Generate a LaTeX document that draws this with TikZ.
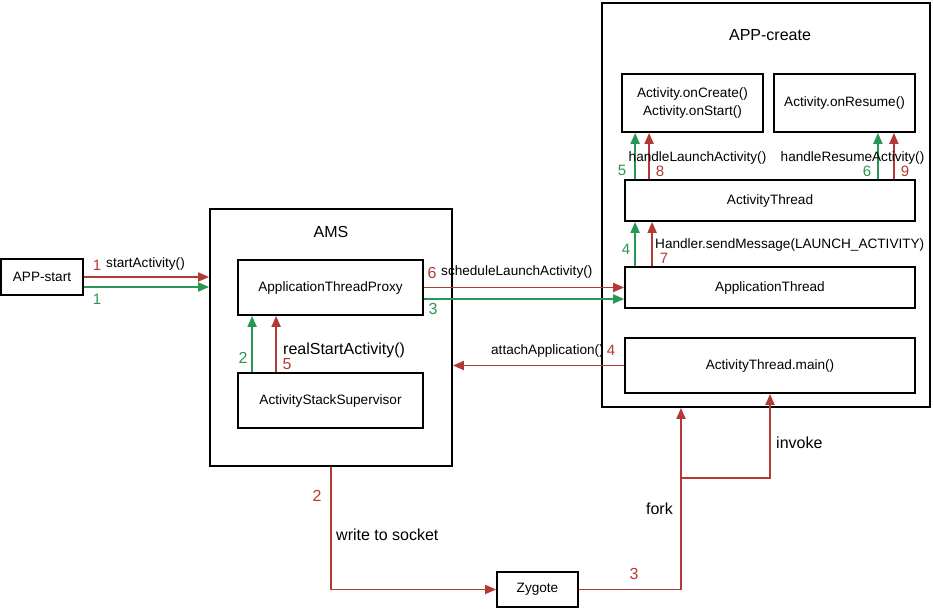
\documentclass[tikz,border=0pt]{standalone}
\usepackage{fontspec}
\setmainfont{Liberation Sans}
\usetikzlibrary{arrows.meta}
\definecolor{callred}{RGB}{178,58,52}
\definecolor{callgreen}{RGB}{40,150,84}
\begin{document}
\begin{tikzpicture}[x=1pt,y=-1pt,
  box/.style={draw,line width=1.8pt,inner sep=0pt,align=center,font=\fontsize{13.6}{18}\selectfont},
  title/.style={inner sep=0pt,font=\fontsize{16}{18}\selectfont},
  lbl/.style={inner sep=0pt,font=\fontsize{13.6}{16}\selectfont},
  biglbl/.style={inner sep=0pt,font=\fontsize{16}{18}\selectfont},
  rednum/.style={inner sep=0pt,font=\fontsize{15}{17}\selectfont,text=callred},
  greennum/.style={inner sep=0pt,font=\fontsize{15}{17}\selectfont,text=callgreen},
  redcall/.style={draw=callred,line width=1.9pt,-{Triangle[length=11pt,width=9pt]}},
  greencall/.style={draw=callgreen,line width=1.9pt,-{Triangle[length=11pt,width=9pt]}}]
\useasboundingbox (0,0) rectangle (933,610);

% boxes
\node(appstart) [box,minimum width=82pt,minimum height=36pt] at (42,277) {APP-start};
\node(ams) [box,minimum width=242pt,minimum height=257pt] at (331,337.5) {};
\node(amstitle) [title] at (331,232) {AMS};
\node(atp) [box,minimum width=185pt,minimum height=55pt] at (330.5,287.5) {ApplicationThreadProxy};
\node(ass) [box,minimum width=185pt,minimum height=55pt] at (330.5,400.5) {ActivityStackSupervisor};
\node(appcreate) [box,minimum width=328pt,minimum height=404pt] at (766,205) {};
\node(appcreatetitle) [title] at (770,35) {APP-create};
\node(oncreate) [box,minimum width=141pt,minimum height=58pt] at (692.5,103) {Activity.onCreate()\\Activity.onStart()};
\node(onresume) [box,minimum width=141pt,minimum height=58pt] at (844.5,103) {Activity.onResume()};
\node(actthread) [box,minimum width=290pt,minimum height=41pt] at (770,200.5) {ActivityThread};
\node(appthread) [box,minimum width=290pt,minimum height=41pt] at (770,287.5) {ApplicationThread};
\node(main) [box,minimum width=290pt,minimum height=55pt] at (770,365.5) {ActivityThread.main()};
\node(zygote) [box,minimum width=81pt,minimum height=35pt] at (537.5,589.5) {Zygote};

% calls
\draw[redcall] (appstart.east) -- (appstart.east -| ams.west);
\draw[greencall] ([yshift=-10pt]appstart.east) -- ([yshift=-10pt]appstart.east -| ams.west);
\draw[greencall] ([xshift=15pt]ass.north west) -- ([xshift=15pt]atp.south west);
\draw[redcall] ([xshift=39pt]ass.north west) -- ([xshift=39pt]atp.south west);
\draw[redcall] (atp.east) -- (atp.east -| appthread.west);
\draw[greencall] ([yshift=-11.5pt]atp.east) -- ([yshift=-11.5pt]atp.east -| appthread.west);
\draw[greencall] ([xshift=11pt]appthread.north west) -- ([xshift=11pt]actthread.south west);
\draw[redcall] ([xshift=28pt]appthread.north west) -- ([xshift=28pt]actthread.south west);
\draw[greencall] ([xshift=11pt]actthread.north west) -- ([xshift=11pt]actthread.north west |- oncreate.south);
\draw[redcall] ([xshift=25pt]actthread.north west) -- ([xshift=25pt]actthread.north west |- oncreate.south);
\draw[greencall] ([xshift=-38pt]actthread.north east) -- ([xshift=-38pt]onresume.south east);
\draw[redcall] ([xshift=-22pt]actthread.north east) -- ([xshift=-22pt]onresume.south east);
\draw[redcall] (main.west) -- (main.west -| ams.east);
\draw[redcall] (ams.south) |- (zygote.west);
\coordinate(split) at (681,478);
\draw[redcall] (zygote.east) -| (split) -- (split |- appcreate.south);
\draw[redcall] (split) -| (main.south);

% labels
\node(n1r) [rednum] at (97,265) {1};
\node(startlbl) [lbl,anchor=west] at (106,264) {startActivity()};
\node(n1g) [greennum] at (97,299) {1};
\node(n2g) [greennum,font=\fontsize{16}{18}\selectfont] at (243,358) {2};
\node(reallbl) [biglbl,anchor=west] at (283,350) {realStartActivity()};
\node(n5r) [rednum,font=\fontsize{16}{18}\selectfont] at (287,364) {5};
\node(n6r) [rednum,font=\fontsize{16}{18}\selectfont] at (432,273) {6};
\node(schedlbl) [lbl,anchor=west] at (441,272) {scheduleLaunchActivity()};
\node(n3g) [greennum,font=\fontsize{16}{18}\selectfont] at (433,309) {3};
\node(attachlbl) [lbl,anchor=east] at (604,351) {attachApplication()};
\node(n4r) [rednum] at (611,350) {4};
\node(launchlbl) [lbl] at (697.5,158) {handleLaunchActivity()};
\node(n5g) [greennum] at (622,170) {5};
\node(n8r) [rednum] at (660,171) {8};
\node(resumelbl) [lbl] at (852.5,158) {handleResumeActivity()};
\node(n6g) [greennum] at (867,171) {6};
\node(n9r) [rednum] at (905,171) {9};
\node(n4g) [greennum] at (626,249) {4};
\node(handlerlbl) [lbl,anchor=west] at (655,245) {Handler.sendMessage(LAUNCH\_ACTIVITY)};
\node(n7r) [rednum] at (664,258) {7};
\node(n2r) [rednum,font=\fontsize{16}{18}\selectfont] at (317,496) {2};
\node(socketlbl) [biglbl,anchor=west] at (336,535) {write to socket};
\node(forklbl) [biglbl,anchor=east] at (673,509) {fork};
\node(n3r) [rednum,font=\fontsize{16}{18}\selectfont] at (634,574) {3};
\node(invokelbl) [biglbl,anchor=west] at (776,443) {invoke};
\end{tikzpicture}
\end{document}
